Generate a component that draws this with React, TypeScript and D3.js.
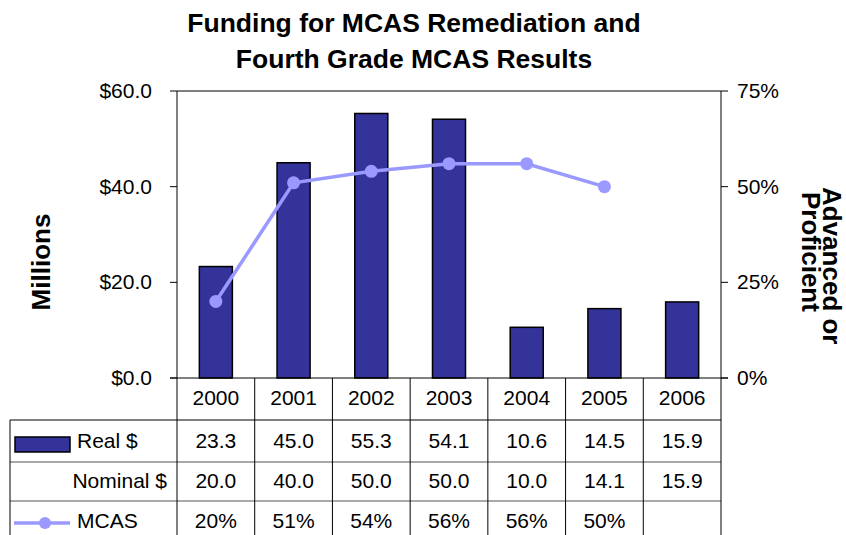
import React from "react";
import * as d3 from "d3";

const categories = ["2000", "2001", "2002", "2003", "2004", "2005", "2006"];
const realDollars = [23.3, 45.0, 55.3, 54.1, 10.6, 14.5, 15.9];
const nominalDollars = [20.0, 40.0, 50.0, 50.0, 10.0, 14.1, 15.9];
const mcas: (number | null)[] = [20, 51, 54, 56, 56, 50, null];
const leftTicks = [0, 20, 40, 60];
const rightTicks = [0, 25, 50, 75];
const titleLines = ["Funding for MCAS Remediation and", "Fourth Grade MCAS Results"];

const W = 846;
const H = 535;
const plot = { left: 177, right: 721, top: 91, bottom: 378 };
const FONT = "Liberation Sans, Arial, sans-serif";
const BAR = "#333399";
const LINE = "#9999FF";

export default function App() {
  const x = d3.scaleBand<string>().domain(categories).range([plot.left, plot.right]).paddingInner(0.575).paddingOuter(0.2875);
  const xCell = d3.scaleBand<string>().domain(categories).range([plot.left, plot.right]);
  const yL = d3.scaleLinear().domain([0, 60]).range([plot.bottom, plot.top]);
  const yR = d3.scaleLinear().domain([0, 75]).range([plot.bottom, plot.top]);
  const cx = (c: string) => (xCell(c) as number) + xCell.bandwidth() / 2;

  const mcasPts = categories
    .map((c, i) => ({ c, v: mcas[i] }))
    .filter((d) => d.v !== null) as { c: string; v: number }[];
  const line = d3
    .line<{ c: string; v: number }>()
    .x((d) => cx(d.c))
    .y((d) => yR(d.v));

  const tableLeft = 10;
  const rowTops = [378, 420, 462, 501, 540];
  const rowBase = [405, 448, 488, 528];
  const fs = 21;

  const rows = [
    { label: "Real $", vals: realDollars.map((v) => v.toFixed(1)) },
    { label: "Nominal $", vals: nominalDollars.map((v) => v.toFixed(1)) },
    { label: "MCAS", vals: mcas.map((v) => (v === null ? "" : `${v}%`)) },
  ];

  return (
    <svg width={W} height={H} style={{ position: "absolute", left: 0, top: 0 }} fontFamily={FONT}>
      <rect width={W} height={H} fill="#fff" />
      {titleLines.map((t, i) => (
        <text key={i} x={414} y={32 + i * 36} textAnchor="middle" fontSize={26.5} fontWeight="bold" fill="#000">
          {t}
        </text>
      ))}
      {/* bars */}
      {categories.map((c, i) => (
        <rect
          key={c}
          x={x(c)}
          y={yL(realDollars[i])}
          width={x.bandwidth()}
          height={yL(0) - yL(realDollars[i])}
          fill={BAR}
          stroke="#000"
          strokeWidth={1.5}
        />
      ))}
      {/* line */}
      <path d={line(mcasPts) || ""} fill="none" stroke={LINE} strokeWidth={3.5} />
      {mcasPts.map((d) => (
        <circle key={d.c} cx={cx(d.c)} cy={yR(d.v)} r={6.5} fill={LINE} />
      ))}
      {/* axes */}
      <line x1={plot.left} x2={plot.right} y1={plot.top} y2={plot.top} stroke="#000" strokeWidth={1} />
      <line x1={plot.left} x2={plot.left} y1={plot.top} y2={plot.bottom} stroke="#000" strokeWidth={1} />
      <line x1={plot.right} x2={plot.right} y1={plot.top} y2={plot.bottom} stroke="#000" strokeWidth={1} />
      {leftTicks.map((t) => (
        <g key={t}>
          <line x1={plot.left - 7} x2={plot.left} y1={yL(t)} y2={yL(t)} stroke="#000" />
          <text x={152} y={yL(t) + 7} textAnchor="end" fontSize={fs} fill="#000">
            {`$${t.toFixed(1)}`}
          </text>
        </g>
      ))}
      {rightTicks.map((t) => (
        <g key={t}>
          <line x1={plot.right} x2={plot.right + 7} y1={yR(t)} y2={yR(t)} stroke="#000" />
          <text x={737} y={yR(t) + 7} textAnchor="start" fontSize={fs} fill="#000">
            {`${t}%`}
          </text>
        </g>
      ))}
      <text transform={`translate(50,262) rotate(-90)`} textAnchor="middle" fontSize={26} fontWeight="bold" fill="#000">
        Millions
      </text>
      <text transform={`translate(823,187) rotate(90)`} textAnchor="start" fontSize={26} fontWeight="bold" fill="#000">
        Advanced or
      </text>
      <text transform={`translate(802,192) rotate(90)`} textAnchor="start" fontSize={26} fontWeight="bold" fill="#000">
        Proficient
      </text>
      {/* table */}
      <line x1={plot.left - 7} x2={plot.right + 7} y1={plot.bottom} y2={plot.bottom} stroke="#000" />
      {categories.map((c) => (
        <text key={c} x={cx(c)} y={rowBase[0]} textAnchor="middle" fontSize={fs} fill="#000">
          {c}
        </text>
      ))}
      {[1, 2, 3].map((r) => (
        <line key={r} x1={tableLeft} x2={plot.right} y1={rowTops[r]} y2={rowTops[r]} stroke={r === 1 ? "#000" : "#555"} strokeWidth={1.2} />
      ))}
      <line x1={tableLeft} x2={tableLeft} y1={rowTops[1]} y2={H} stroke="#000" />
      {categories.map((c) => (
        <line key={c} x1={xCell(c)} x2={xCell(c)} y1={rowTops[0]} y2={H} stroke="#000" />
      ))}
      <line x1={plot.right} x2={plot.right} y1={rowTops[0]} y2={H} stroke="#000" />
      {rows.map((row, r) => (
        <g key={row.label}>
          {row.vals.map((v, i) => (
            <text key={i} x={cx(categories[i])} y={rowBase[r + 1]} textAnchor="middle" fontSize={fs} fill="#000">
              {v}
            </text>
          ))}
        </g>
      ))}
      {/* legend keys */}
      <rect x={15} y={437} width={55} height={15} fill={BAR} stroke="#000" strokeWidth={1.5} />
      <text x={77} y={rowBase[1]} fontSize={fs} fill="#000">Real $</text>
      <text x={167} y={rowBase[2]} textAnchor="end" fontSize={fs} fill="#000">Nominal $</text>
      <line x1={14} x2={70} y1={523} y2={523} stroke={LINE} strokeWidth={3.5} />
      <circle cx={45} cy={523} r={6} fill={LINE} />
      <text x={77} y={rowBase[3]} fontSize={fs} fill="#000">MCAS</text>
    </svg>
  );
}
